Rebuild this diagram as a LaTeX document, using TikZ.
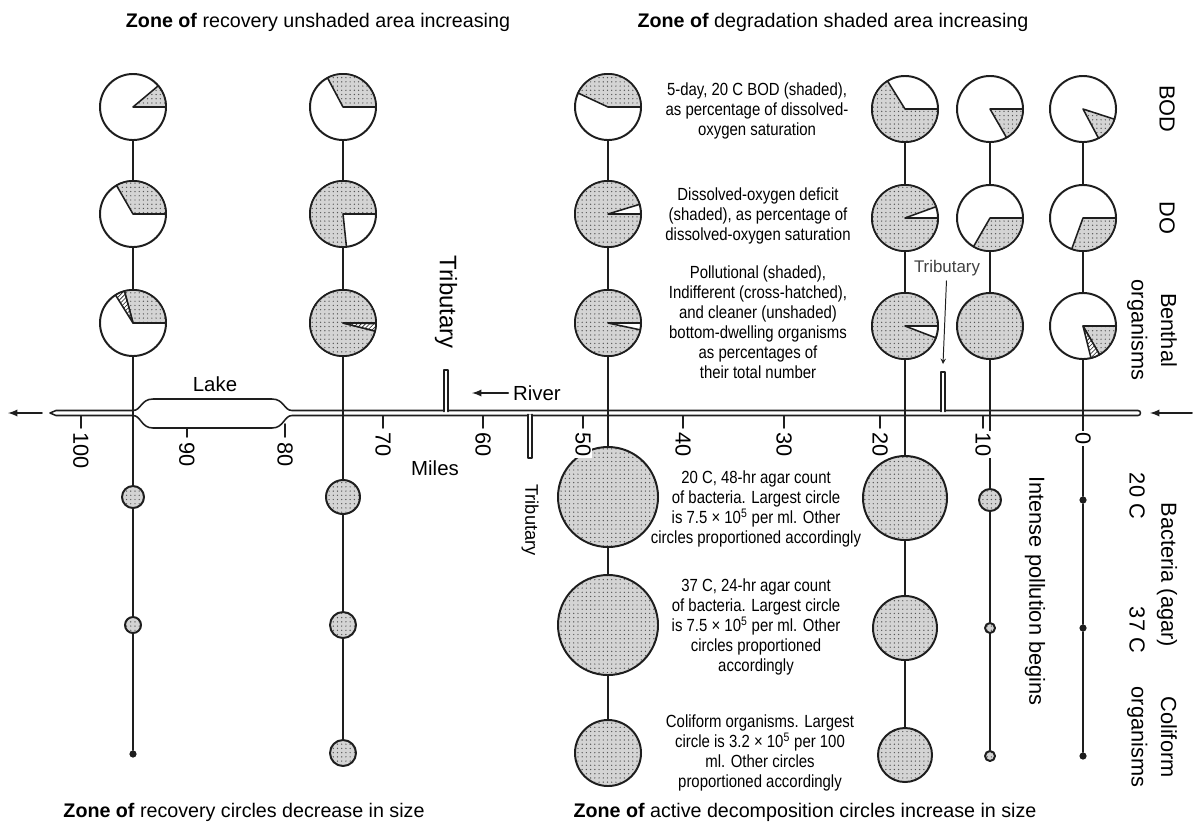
\documentclass[tikz,border=0pt]{standalone}
\usepackage{fontspec}
\setmainfont{Liberation Sans}
\newfontfamily\narrowfont[FakeStretch=0.85]{Liberation Sans}
\usetikzlibrary{patterns}
\definecolor{Ink}{RGB}{30,30,30}
\definecolor{Dotfill}{RGB}{212,212,212}
\definecolor{Dotink}{RGB}{85,85,85}

\begin{document}
\begin{tikzpicture}[x=0.025cm,y=0.025cm,line cap=round,line join=round,
  stipple/.style={preaction={fill=Dotfill},pattern=dots,pattern color=Dotink},
  crossed/.style={preaction={fill=white},pattern=north east lines,pattern color=Ink},
  pie/.style={circle,draw=Ink,line width=1.4pt,fill=white,minimum size=1.65cm,inner sep=0pt},
  bub/.style={circle,draw=Ink,line width=1.4pt,stipple,inner sep=0pt},
  blob/.style={circle,fill=Ink,minimum size=0.18cm,inner sep=0pt},
  wedge/.style={stipple,draw=Ink,line width=1.1pt},
  hwedge/.style={crossed,draw=Ink,line width=1.1pt},
  stem/.style={draw=Ink,line width=1.1pt},
  riv/.style={draw=Ink,line width=1.1pt},
  arr/.style={draw=Ink,line width=1.3pt,-latex},
  num/.style={rotate=-90,anchor=west,fill=white,inner sep=1pt,font=\fontsize{15.5}{18}\selectfont},
  side/.style={rotate=-90,align=center,font=\fontsize{15.5}{21}\selectfont},
  note/.style={align=center,font=\narrowfont\fontsize{12.5}{14.2}\selectfont},
  zone/.style={font=\fontsize{14}{16}\selectfont}]
\path[use as bounding box] (0,0) rectangle (1194,-837);

% zone headings
\node[zone] (zrec) at (318,-22) {\textbf{Zone of} recovery unshaded area increasing};
\node[zone] (zdeg) at (833,-22) {\textbf{Zone of} degradation shaded area increasing};
\node[zone] (zrecb) at (244,-812) {\textbf{Zone of} recovery circles decrease in size};
\node[zone] (zact) at (805,-812) {\textbf{Zone of} active decomposition circles increase in size};

% river with lake
\draw[riv,fill=white] (50,-413) -- (56,-410.5) -- (133,-410.5)
  .. controls (141,-410.5) and (141,-399) .. (153,-399) -- (272,-399)
  .. controls (284,-399) and (284,-410.5) .. (292,-410.5) -- (1138,-410.5)
  arc[start angle=90,end angle=-90,radius=2.5] -- (292,-415.5)
  .. controls (284,-415.5) and (284,-428) .. (272,-428) -- (153,-428)
  .. controls (141,-428) and (141,-415.5) .. (133,-415.5) -- (56,-415.5) -- cycle;
\draw[riv,fill=white] (444,-411.5) -- (444,-370) -- (448,-370) -- (448,-411.5);
\draw[riv,fill=white] (528,-414.5) -- (528,-458) -- (532,-458) -- (532,-414.5);
\draw[riv,fill=white] (941,-411.5) -- (941,-372) -- (945,-372) -- (945,-411.5);
\draw[riv] (81,-416) -- (81,-428);
\draw[riv] (187,-429) -- (187,-437);
\draw[riv] (285,-424) -- (285,-437);
\draw[riv] (383,-416) -- (383,-428);
\draw[riv] (483,-416) -- (483,-428);
\draw[riv] (583,-416) -- (583,-428);
\draw[riv] (683,-416) -- (683,-428);
\draw[riv] (784,-416) -- (784,-428);
\draw[riv] (880,-416) -- (880,-428);
\draw[riv] (983,-416) -- (983,-428);

\coordinate (inL) at (42,-413);
\coordinate (outL) at (8,-413);
\draw[arr] (inL) -- (outL);
\coordinate (inR) at (1192,-413);
\coordinate (outR) at (1150,-413);
\draw[arr] (inR) -- (outR);

\node[font=\fontsize{14.5}{16}\selectfont] (lake) at (215,-384) {Lake};
\node[font=\fontsize{14.5}{16}\selectfont] (river) at (537,-393) {River};
\coordinate (rivtip) at (472,-393);
\draw[arr] (river) -- (rivtip);
\node[font=\fontsize{14.5}{16}\selectfont] (miles) at (435,-468) {Miles};
\node[rotate=-90,font=\fontsize{17}{18}\selectfont] (tribA) at (446,-302) {Tributary};
\node[rotate=-90,font=\fontsize{13}{16}\selectfont] (tribB) at (530,-520) {Tributary};
\node[font=\fontsize{12}{14}\selectfont,text=Ink!85] (tribC) at (947,-268) {Tributary};
\coordinate (tribCend) at (943,-364);
\draw[draw=Ink,line width=0.7pt,-stealth] (tribC) -- (tribCend);

% pie circles: BOD, DO, benthal
\node[pie] (bod1) at (133,-107) {};
\node[pie] (do1) at (133,-214) {};
\node[pie] (ben1) at (133,-323) {};
\node[pie] (bod2) at (343,-107) {};
\node[pie] (do2) at (343,-214) {};
\node[pie] (ben2) at (343,-323) {};
\node[pie] (bod3) at (608,-107) {};
\node[pie] (do3) at (608,-214) {};
\node[pie] (ben3) at (608,-323) {};
\node[pie] (bod4) at (905,-109) {};
\node[pie] (do4) at (905,-218) {};
\node[pie] (ben4) at (905,-326) {};
\node[pie] (bod5) at (990,-109) {};
\node[pie] (do5) at (990,-218) {};
\node[pie,stipple] (ben5) at (990,-326) {};
\node[pie] (bod6) at (1083,-109) {};
\node[pie] (do6) at (1083,-218) {};
\node[pie] (ben6) at (1083,-326) {};

\filldraw[wedge] (bod1.center) -- ++(0:33) arc[start angle=0,end angle=40,radius=33] -- cycle;
\filldraw[wedge] (do1.center) -- ++(0:33) arc[start angle=0,end angle=120,radius=33] -- cycle;
\filldraw[wedge] (ben1.center) -- ++(0:33) arc[start angle=0,end angle=105,radius=33] -- cycle;
\filldraw[hwedge] (ben1.center) -- ++(105:33) arc[start angle=105,end angle=122,radius=33] -- cycle;
\filldraw[wedge] (bod2.center) -- ++(0:33) arc[start angle=0,end angle=118,radius=33] -- cycle;
\filldraw[wedge] (do2.center) -- ++(0:33) arc[start angle=0,end angle=276,radius=33] -- cycle;
\filldraw[wedge] (ben2.center) -- ++(0:33) arc[start angle=0,end angle=346,radius=33] -- cycle;
\filldraw[hwedge] (ben2.center) -- ++(346:33) arc[start angle=346,end angle=359,radius=33] -- cycle;
\filldraw[wedge] (bod3.center) -- ++(0:33) arc[start angle=0,end angle=155,radius=33] -- cycle;
\filldraw[wedge] (do3.center) -- ++(17:33) arc[start angle=17,end angle=360,radius=33] -- cycle;
\filldraw[wedge] (ben3.center) -- ++(0:33) arc[start angle=0,end angle=348,radius=33] -- cycle;
\filldraw[wedge] (bod4.center) -- ++(122:33) arc[start angle=122,end angle=360,radius=33] -- cycle;
\filldraw[wedge] (do4.center) -- ++(20:33) arc[start angle=20,end angle=360,radius=33] -- cycle;
\filldraw[wedge] (ben4.center) -- ++(0:33) arc[start angle=0,end angle=339,radius=33] -- cycle;
\filldraw[wedge] (bod5.center) -- ++(-60:33) arc[start angle=-60,end angle=0,radius=33] -- cycle;
\filldraw[wedge] (do5.center) -- ++(-120:33) arc[start angle=-120,end angle=0,radius=33] -- cycle;
\filldraw[wedge] (bod6.center) -- ++(-62:33) arc[start angle=-62,end angle=-18,radius=33] -- cycle;
\filldraw[wedge] (do6.center) -- ++(-110:33) arc[start angle=-110,end angle=0,radius=33] -- cycle;
\filldraw[wedge] (ben6.center) -- ++(-60:33) arc[start angle=-60,end angle=0,radius=33] -- cycle;
\filldraw[hwedge] (ben6.center) -- ++(-76:33) arc[start angle=-76,end angle=-60,radius=33] -- cycle;

% bacteria 20 C, 37 C and coliform circles
\node[bub,minimum size=0.55cm] (bt1) at (133,-497) {};
\node[bub,minimum size=0.4cm] (bs1) at (133,-625) {};
\node[blob] (cf1) at (133,-754) {};
\node[bub,minimum size=0.85cm] (bt2) at (343,-497) {};
\node[bub,minimum size=0.65cm] (bs2) at (343,-625) {};
\node[bub,minimum size=0.65cm] (cf2) at (343,-753) {};
\node[bub,minimum size=2.5cm] (bt3) at (608,-497) {};
\node[bub,minimum size=2.5cm] (bs3) at (608,-625) {};
\node[bub,minimum size=1.65cm] (cf3) at (608,-753) {};
\node[bub,minimum size=2.1cm] (bt4) at (905,-498) {};
\node[bub,minimum size=1.6cm] (bs4) at (905,-628) {};
\node[bub,minimum size=1.35cm] (cf4) at (905,-755) {};
\node[bub,minimum size=0.55cm] (bt5) at (990,-500) {};
\node[bub,minimum size=0.25cm] (bs5) at (990,-628) {};
\node[bub,minimum size=0.25cm] (cf5) at (990,-756) {};
\node[blob] (bt6) at (1083,-500) {};
\node[blob] (bs6) at (1083,-628) {};
\node[blob] (cf6) at (1083,-756) {};

\draw[stem] (bod1) -- (do1) -- (ben1) -- (bt1) -- (bs1) -- (cf1);
\draw[stem] (bod2) -- (do2) -- (ben2) -- (bt2) -- (bs2) -- (cf2);
\draw[stem] (bod3) -- (do3) -- (ben3) -- (bt3) -- (bs3) -- (cf3);
\draw[stem] (bod4) -- (do4) -- (ben4) -- (bt4) -- (bs4) -- (cf4);
\draw[stem] (bod5) -- (do5) -- (ben5) -- (bt5) -- (bs5) -- (cf5);
\draw[stem] (bod6) -- (do6) -- (ben6) -- (bt6) -- (bs6) -- (cf6);

% mileage
\node[num] (m100) at (81,-431) {100};
\node[num] (m90) at (187,-441) {90};
\node[num] (m80) at (285,-441) {80};
\node[num] (m70) at (383,-431) {70};
\node[num] (m60) at (483,-431) {60};
\node[num] (m50) at (583,-431) {50};
\node[num] (m40) at (683,-431) {40};
\node[num] (m30) at (784,-431) {30};
\node[num] (m20) at (880,-431) {20};
\node[num] (m10) at (983,-431) {10};
\node[num] (m0) at (1083,-431) {0};

% explanations
\node[note] (nbod) at (757,-111) {5-day, 20 C BOD (shaded),\\as percentage of dissolved-\\oxygen saturation};
\node[note] (ndo) at (758,-216) {Dissolved-oxygen deficit\\(shaded), as percentage of\\dissolved-oxygen saturation};
\node[note] (nben) at (758,-322) {Pollutional (shaded),\\Indifferent (cross-hatched),\\and cleaner (unshaded)\\bottom-dwelling organisms\\as percentages of\\their total number};
\node[note] (nbt) at (756,-509) {20 C, 48-hr agar count\\of bacteria. Largest circle\\is 7.5 × 10\textsuperscript{5} per ml. Other\\circles proportioned accordingly};
\node[note] (nbs) at (756,-627) {37 C, 24-hr agar count\\of bacteria. Largest circle\\is 7.5 × 10\textsuperscript{5} per ml. Other\\circles proportioned\\accordingly};
\node[note] (ncf) at (760,-753) {Coliform organisms. Largest\\circle is 3.2 × 10\textsuperscript{5} per 100\\ml. Other circles\\proportioned accordingly};

% row labels
\node[side] (lbod) at (1167,-109) {BOD};
\node[side] (ldo) at (1167,-218) {DO};
\node[side] (lben) at (1152,-330) {Benthal\\organisms};
\node[side] (lbac) at (1167,-575) {Bacteria (agar)};
\node[side] (l20) at (1137,-496) {20 C};
\node[side] (l37) at (1137,-630) {37 C};
\node[side] (lcf) at (1152,-737) {Coliform\\organisms};
\node[side] (lint) at (1035,-591) {Intense pollution begins};
\end{tikzpicture}
\end{document}
